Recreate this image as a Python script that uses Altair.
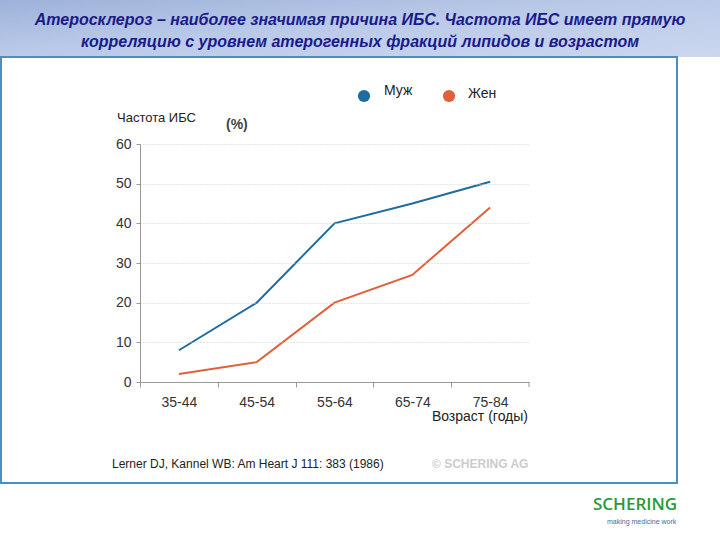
import altair as alt
import pandas as pd

ages = ["35-44", "45-54", "55-64", "65-74", "75-84"]
male = [8, 20, 40, 45, 50.5]
female = [2, 5, 20, 27, 44]
series_names = ["Муж", "Жен"]
series_colors = ["#1f6c9e", "#e0603a"]
y_ticks = [0, 10, 20, 30, 40, 50, 60]

rows = []
for a, m in zip(ages, male):
    rows.append({"age": a, "value": m, "sex": "Муж"})
for a, f in zip(ages, female):
    rows.append({"age": a, "value": f, "sex": "Жен"})
df = pd.DataFrame(rows)
one = pd.DataFrame({"k": [0]})

FONT = "Liberation Sans"
W, H = 389, 238

header = alt.Chart(one).mark_rect(
    fill=alt.Gradient(
        gradient="linear",
        stops=[alt.GradientStop(color="#9db2da", offset=0),
               alt.GradientStop(color="#b9c9e8", offset=0.45),
               alt.GradientStop(color="#cbd7ee", offset=1)],
        x1=0, x2=1, y1=0, y2=1),
).encode(x=alt.value(-140), x2=alt.value(580), y=alt.value(-144), y2=alt.value(-87))

box = alt.Chart(one).mark_rect(fill="white", stroke="#4a8fbf", strokeWidth=2).encode(
    x=alt.value(-139), x2=alt.value(537), y=alt.value(-87), y2=alt.value(339))

lines = alt.Chart(df).mark_line(strokeWidth=2).encode(
    x=alt.X("age:N", sort=ages, title=None,
            scale=alt.Scale(padding=0.5),
            axis=alt.Axis(labelAngle=0, tickOffset=-W / 10, labelOffset=W / 10,
                          labelFont=FONT, labelFontSize=14, labelColor="#333333",
                          labelPadding=8, tickSize=5, tickColor="#999999",
                          domainColor="#999999", grid=False, zindex=1)),
    y=alt.Y("value:Q", title=None,
            scale=alt.Scale(domain=[0, 60], nice=False),
            axis=alt.Axis(values=y_ticks, labelFont=FONT, labelFontSize=14,
                          labelColor="#333333", tickSize=4, tickColor="#999999",
                          domainColor="#999999", labelPadding=5,
                          gridColor="#cccccc", gridDash=[1, 2], zindex=1)),
    color=alt.Color("sex:N", scale=alt.Scale(domain=series_names, range=series_colors),
                    legend=None),
    detail="sex:N",
)

end_tick = alt.Chart(one).mark_rule(color="#999999").encode(
    x=alt.value(W), y=alt.value(H), y2=alt.value(H + 5))

def txt(s, x, y, size=14, color="#222222", weight="normal", style="normal",
        align="left", font=FONT):
    return alt.Chart(one).mark_text(
        text=s, font=font, fontSize=size, color=color, fontWeight=weight,
        fontStyle=style, align=align, baseline="middle",
    ).encode(x=alt.value(x), y=alt.value(y))

legend_pts = alt.Chart(pd.DataFrame({"sex": series_names, "px": [224, 309]})).mark_circle(
    size=150, opacity=1).encode(
    x=alt.X("px:Q", scale=None),
    y=alt.value(-48),
    color=alt.Color("sex:N", scale=alt.Scale(domain=series_names,
                                             range=["#1a6aa6", "#e5572e"]), legend=None),
)

texts = [
    txt("Атеросклероз – наиболее значимая причина ИБС. Частота ИБС имеет прямую",
        220, -124, size=16, color="#1a1a8a", weight="bold", style="italic", align="center"),
    txt("корреляцию с уровнем атерогенных фракций липидов и возрастом",
        220, -102, size=16, color="#1a1a8a", weight="bold", style="italic", align="center"),
    txt("Муж", 244, -53, size=14),
    txt("Жен", 328, -50, size=14),
    txt("Частота ИБС", -23, -26, size=13),
    txt("(%)", 86, -19, size=14, color="#444444", weight="bold"),
    txt("Возраст (годы)", 388, 273, size=14, align="right"),
    txt("Lerner DJ, Kannel WB: Am Heart J 111: 383 (1986)", -28, 320, size=12),
    txt("© SCHERING AG", 292, 320, size=12, color="#cccccc", weight="bold"),
    txt("SCHERING", 453, 361, size=17, color="#2a9a3a", font="Open Sans", weight=600),
    txt("making medicine work", 467, 378, size=7, color="#4a6a9a"),
]

chart = alt.layer(header, box, lines, end_tick, legend_pts, *texts).properties(
    width=W, height=H,
    padding={"left": 140, "top": 144, "right": 191, "bottom": 158},
    autosize=alt.AutoSizeParams(type="none"),
    background="white",
).configure_view(stroke=None)

chart.save("out.html", embed_options={"renderer": "svg", "actions": False})
